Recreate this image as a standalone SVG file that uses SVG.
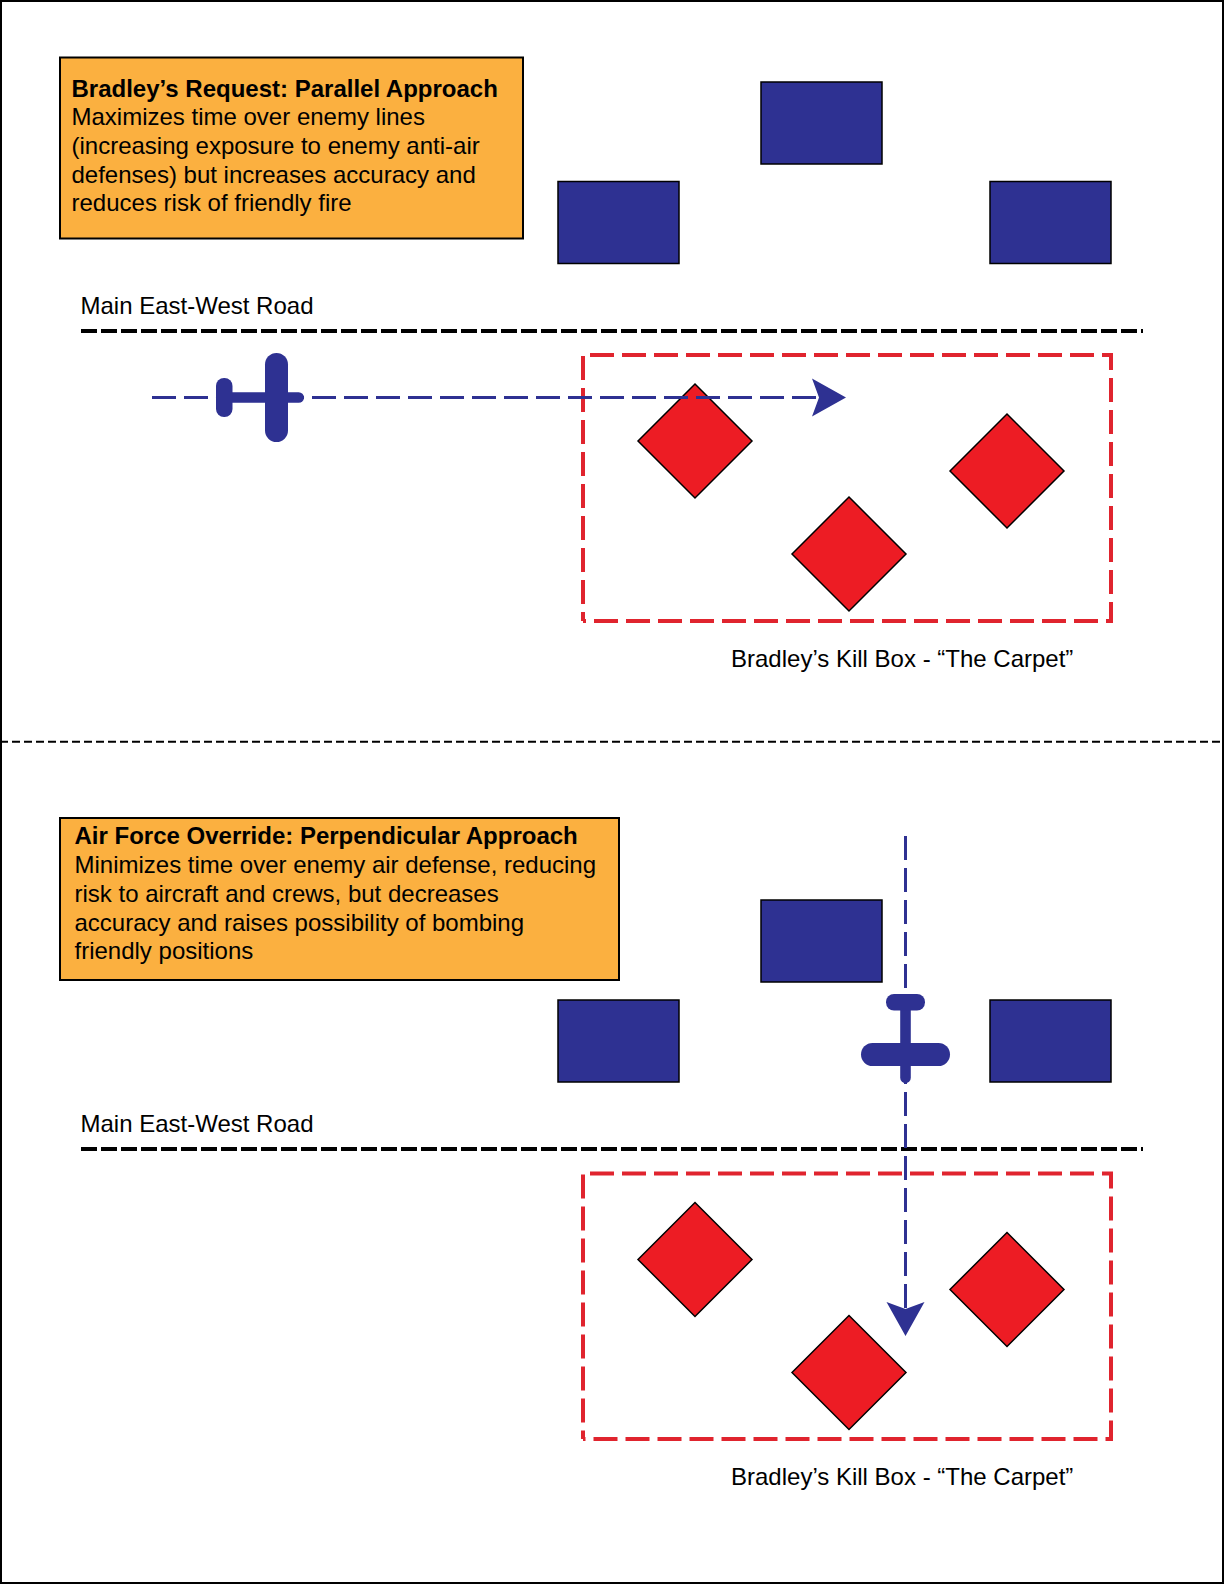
<svg xmlns="http://www.w3.org/2000/svg" xmlns:xlink="http://www.w3.org/1999/xlink" width="1224" height="1584" viewBox="0 0 1224 1584">
<style>
text{font-family:"Liberation Sans",Arial,sans-serif;font-size:24px;fill:#000}
.b{font-weight:700}
.note{fill:#FBB040;stroke:#000;stroke-width:2}
.bld{fill:#2E3192;stroke:#000;stroke-width:1.5}
.tgt{fill:#ED1C24;stroke:#000;stroke-width:1.5}
.road{fill:none;stroke:#000;stroke-width:4;stroke-dasharray:16 4}
.kill{fill:none;stroke:#E0242E;stroke-width:4;stroke-dasharray:24 8}
.path{fill:none;stroke:#2E3192;stroke-width:3;stroke-dasharray:24 8}
.pl{fill:#2E3192}
</style>
<defs>
<polygon id="head" points="0,0 -34,-19 -27,0 -34,19" class="pl"/>
</defs>
<rect id="page" x="1" y="1" width="1222" height="1582" fill="#fff" stroke="#000" stroke-width="2"/>
<line id="divider" x1="2" y1="741.700" x2="1222" y2="741.700" stroke="#000" stroke-width="2" stroke-dasharray="8 4" stroke-dashoffset="2"/>
<g id="note-parallel">
<rect class="note" x="60" y="57.500" width="463" height="181"/>
<text class="b" x="71.500" y="97">Bradley’s Request: Parallel Approach</text>
<text x="71.500" y="125">Maximizes time over enemy lines</text>
<text x="71.500" y="154">(increasing exposure to enemy anti-air</text>
<text x="71.500" y="183">defenses) but increases accuracy and</text>
<text x="71.500" y="211">reduces risk of friendly fire</text>
</g>
<g id="bld-1a"><rect class="bld" x="761" y="82" width="121" height="82"/></g>
<g id="bld-1b"><rect class="bld" x="558" y="181.500" width="121" height="82"/></g>
<g id="bld-1c"><rect class="bld" x="990" y="181.500" width="121" height="82"/></g>
<g id="road-1"><text x="80.500" y="314">Main East-West Road</text><line class="road" x1="81" y1="331" x2="1143" y2="331"/></g>
<g id="killbox-1">
<path class="kill" d="M590 355H1111V621H583M583 356V621"/>
<text x="731" y="667">Bradley’s Kill Box - “The Carpet”</text>
</g>
<g id="tgt-1a"><polygon class="tgt" points="695,384 752,441 695,498 638,441"/></g>
<g id="tgt-1b"><polygon class="tgt" points="1007,414 1064,471 1007,528 950,471"/></g>
<g id="tgt-1c"><polygon class="tgt" points="849,497 906,554 849,611 792,554"/></g>
<g id="connectors-1">
<line class="path" x1="152" y1="397.500" x2="820" y2="397.500"/>
<use xlink:href="#head" href="#head" transform="translate(846 397.500)"/>
</g>
<g id="plane-1">
<rect class="pl" x="216" y="392.200" width="88" height="10.600" rx="5.300"/>
<rect class="pl" x="216" y="378" width="16.500" height="39" rx="8"/>
<rect class="pl" x="265" y="353" width="23" height="89" rx="11.500"/>
</g>

<g id="note-perpendicular">
<rect class="note" x="60" y="818" width="559" height="162"/>
<text class="b" x="74.500" y="844">Air Force Override: Perpendicular Approach</text>
<text x="74.500" y="873">Minimizes time over enemy air defense, reducing</text>
<text x="74.500" y="902">risk to aircraft and crews, but decreases</text>
<text x="74.500" y="931">accuracy and raises possibility of bombing</text>
<text x="74.500" y="959">friendly positions</text>
</g>
<g id="bld-2a"><rect class="bld" x="761" y="900" width="121" height="82"/></g>
<g id="bld-2b"><rect class="bld" x="558" y="1000" width="121" height="82"/></g>
<g id="bld-2c"><rect class="bld" x="990" y="1000" width="121" height="82"/></g>
<g id="road-2"><text x="80.500" y="1132">Main East-West Road</text><line class="road" x1="81" y1="1149" x2="1143" y2="1149"/></g>
<g id="killbox-2">
<path class="kill" d="M590 1173.500H1111V1439H583M583 1174.500V1439"/>
<text x="731" y="1485">Bradley’s Kill Box - “The Carpet”</text>
</g>
<g id="tgt-2a"><polygon class="tgt" points="695,1202.500 752,1259.500 695,1316.500 638,1259.500"/></g>
<g id="tgt-2b"><polygon class="tgt" points="1007,1232.500 1064,1289.500 1007,1346.500 950,1289.500"/></g>
<g id="tgt-2c"><polygon class="tgt" points="849,1315.500 906,1372.500 849,1429.500 792,1372.500"/></g>
<g id="connectors-2">
<line class="path" x1="905.500" y1="836" x2="905.500" y2="1310"/>
<use xlink:href="#head" href="#head" transform="translate(905.500 1336) rotate(90)"/>
</g>
<g id="plane-2">
<rect class="pl" x="900.200" y="995" width="10.600" height="88" rx="5.300"/>
<rect class="pl" x="886" y="994" width="39" height="16.500" rx="8"/>
<rect class="pl" x="861" y="1043" width="89" height="23" rx="11.500"/>
</g>
</svg>
